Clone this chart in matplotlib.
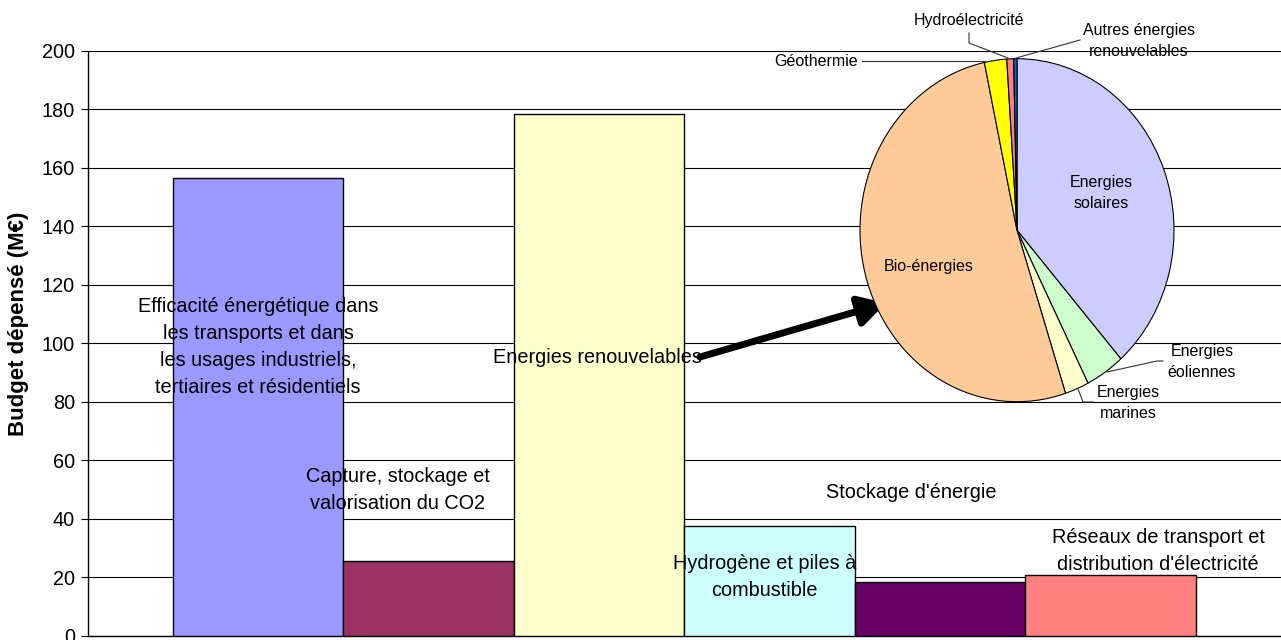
import matplotlib
matplotlib.use("Agg")
import matplotlib.pyplot as plt
from matplotlib.lines import Line2D

plt.rcParams['font.family'] = ['Liberation Sans', 'DejaVu Sans']

# ---- data ----
categories = [
    "Efficacité énergétique dans\nles transports et dans\nles usages industriels,\ntertiaires et résidentiels",
    "Capture, stockage et\nvalorisation du CO2",
    "Energies renouvelables",
    "Hydrogène et piles à\ncombustible",
    "Stockage d'énergie",
    "Réseaux de transport et\ndistribution d'électricité",
]
budgets = [156.4, 25.5, 178.4, 37.6, 18.3, 20.7]
bar_colors = ["#9999FF", "#993366", "#FFFFCC", "#CCFFFF", "#660066", "#FF8080"]

pie_labels = ["Energies\nsolaires", "Energies\néoliennes", "Energies\nmarines",
              "Bio-énergies", "Géothermie", "Hydroélectricité",
              "Autres énergies\nrenouvelables"]
pie_values = [68.7, 7.2, 4.4, 92.2, 4.1, 1.25, 0.6]
pie_colors = ["#CCCCFF", "#CCFFCC", "#FFFFCC", "#FFCC99", "#FFFF00", "#FF8080", "#0066CC"]

W, H = 1281, 640
fig = plt.figure(figsize=(W / 100, H / 100), dpi=100)


def fx(x):
    return x / W


def fy(y):
    return 1 - y / H


# ---- main bar axes ----
ax = fig.add_axes([fx(87.5), fy(635.7), 1 - fx(87.5), fy(50.7) - fy(635.7)])
x = list(range(len(budgets)))
ax.bar(x, budgets, width=1.0, color=bar_colors, edgecolor="black", linewidth=1.0, zorder=3)
ax.set_xlim(-1, 6.0)
ax.set_ylim(0, 200)
ax.set_yticks(range(0, 201, 20))
ax.set_xticks([])
ax.yaxis.grid(True, color="black", linewidth=0.8, zorder=0)
ax.set_axisbelow(True)
for s in ["top", "right"]:
    ax.spines[s].set_visible(False)
ax.spines["left"].set_linewidth(1.0)
ax.spines["bottom"].set_linewidth(1.0)
ax.tick_params(axis="y", direction="out", length=5, width=0.8, labelsize=14.3, pad=4)

fig.text(fx(19), fy(324), "Budget dépensé (M€)", rotation=90, fontsize=16,
         fontweight="bold", ha="center", va="center")

# bar category labels (data coords)
label_pos = [(0.0, 98.7), (0.82, 49.8), (1.99, 95.0), (2.97, 20.0), (3.83, 48.8), (5.28, 29.0)]
for (lx, ly), txt in zip(label_pos, categories):
    ax.text(lx, ly, txt, ha="center", va="center", fontsize=14.3, linespacing=1.55, zorder=5)

# arrow
ax.annotate("", xy=(886, H - 303), xycoords="figure pixels",
            xytext=(700, H - 357), textcoords="figure pixels",
            arrowprops=dict(arrowstyle="-|>,head_length=0.8,head_width=0.45",
                            lw=5, color="black", mutation_scale=20,
                            shrinkA=0, shrinkB=0), zorder=6)

# ---- pie ----
cx, cy, rx, ry = 1017, 230.2, 157, 171.5
pax = fig.add_axes([fx(cx - rx), fy(cy + ry), 2 * rx / W, 2 * ry / H])
pax.pie(pie_values, colors=pie_colors, startangle=90, counterclock=False,
        wedgeprops=dict(edgecolor="black", linewidth=0.8))
pax.set_aspect("auto")
pax.set_xlim(-1, 1)
pax.set_ylim(-1, 1)

pfs = 11.5
pls = 1.44
fig.text(fx(1101), fy(193), pie_labels[0], ha="center", va="center", fontsize=pfs, linespacing=pls)
fig.text(fx(1202), fy(362), pie_labels[1], ha="center", va="center", fontsize=pfs, linespacing=pls)
fig.text(fx(1128), fy(403), pie_labels[2], ha="center", va="center", fontsize=pfs, linespacing=pls)
fig.text(fx(929), fy(267), pie_labels[3], ha="center", va="center", fontsize=pfs)
fig.text(fx(858), fy(62), pie_labels[4], ha="right", va="center", fontsize=pfs)
fig.text(fx(969), fy(20), pie_labels[5], ha="center", va="center", fontsize=pfs)
fig.text(fx(1139), fy(41), pie_labels[6], ha="center", va="center", fontsize=pfs, linespacing=pls)

leaders = [
    [(862, 61), (985, 61)],
    [(969, 33), (969, 43), (1008, 58)],
    [(1080, 40), (1016, 58)],
    [(1163, 361), (1157, 361), (1107, 372)],
    [(1093, 402), (1083, 402), (1078, 389)],
]
for pts in leaders:
    xs = [fx(p[0]) for p in pts]
    ys = [fy(p[1]) for p in pts]
    fig.add_artist(Line2D(xs, ys, color="#333333", linewidth=0.8, transform=fig.transFigure))

fig.savefig("out.png", dpi=100)
